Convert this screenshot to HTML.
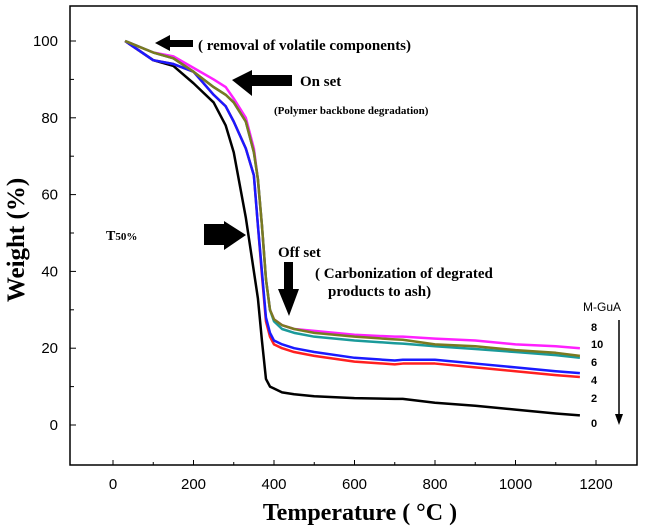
<!DOCTYPE html>
<html><head><meta charset="utf-8"><style>
body{margin:0;background:#fff;}
svg{display:block;}
text{font-family:"Liberation Serif",serif;}
</style></head><body>
<svg id="chart" width="645" height="526" viewBox="0 0 645 526" xmlns="http://www.w3.org/2000/svg">
<g id="axes"></g>
<g id="series"></g>
<g id="annot" font-weight="bold" fill="#000">
  <polygon points="155,43 170,35 170,40 193,40 193,47 170,47 170,51"/>
  <text x="198" y="50" font-size="15">( removal of volatile components)</text>
  <polygon points="232,80 252,70 252,75 292,75 292,86 252,86 252,96"/>
  <text x="300" y="86" font-size="15">On set</text>
  <text x="274" y="114" font-size="11">(Polymer backbone degradation)</text>
  <text x="106" y="240" font-size="14">T<tspan font-size="11">50%</tspan></text>
  <polygon points="204,224 224,224 224,221 246,235 224,250 224,245 204,245"/>
  <text x="278" y="257" font-size="15">Off set</text>
  <polygon points="284,262 293,262 293,289 299,289 289,316 278,289 284,289"/>
  <text x="315" y="278" font-size="15">( Carbonization of degrated</text>
  <text x="328" y="296" font-size="15">products to ash)</text>
  <g font-size="11">
    <text x="583" y="311" style="font-family:'Liberation Sans',sans-serif" font-size="12" font-weight="normal">M-GuA</text>
    <text x="591" y="331" style="font-family:'Liberation Sans',sans-serif">8</text>
    <text x="591" y="348" style="font-family:'Liberation Sans',sans-serif">10</text>
    <text x="591" y="366" style="font-family:'Liberation Sans',sans-serif">6</text>
    <text x="591" y="384" style="font-family:'Liberation Sans',sans-serif">4</text>
    <text x="591" y="402" style="font-family:'Liberation Sans',sans-serif">2</text>
    <text x="591" y="427" style="font-family:'Liberation Sans',sans-serif">0</text>
  </g>
  <line x1="619" y1="320" x2="619" y2="415" stroke="#000" stroke-width="1.5"/>
  <polygon points="615,414 623,414 619,425"/>
</g>
</svg>
<script>
const xTicks=[0,200,400,600,800,1000,1200];
const yTicks=[0,20,40,60,80,100];
const temps=[30,100,150,200,250,280,300,330,350,360,370,380,390,400,420,450,500,600,700,720,800,900,1000,1100,1160];
const w0=[100,95,93.5,89,84,78,71,54,40,33,22,12,10,9.5,8.5,8,7.5,7,6.8,6.8,5.8,5,4,3,2.5];
const w2=[100,95,94,92,86,83,79,72,65,52,40,28,24,22,21,20,19,17.5,16.8,17,17,16,15,14,13.5];
const w4=[100,95,94,92,86,83,79,72,65,52,39,27,23,21,20,19,18,16.5,15.8,16,16,15,14,13,12.5];
const w6=[100,97,95.5,92,88,86,84,79,71,64,52,38,30,27,25,24,23,22,21.3,21.2,20.5,19.8,19,18.2,17.5];
const w8=[100,97,96,93,90,88,85,80,72,64,52,38,30,27.5,26,25,24.5,23.5,23,23,22.5,22,21,20.5,20];
const w10=[100,97,95.5,92,88,86,84,79,71,64,52,38,30,27.5,26,25,24,23,22.3,22.2,21,20.5,19.5,18.8,18];
const sx=v=>113+v*0.4025;
const sy=v=>425-v*3.84;
const NS="http://www.w3.org/2000/svg";
const ax=document.getElementById('axes');
function mk(tag,attrs,parent){const e=document.createElementNS(NS,tag);for(const k in attrs)e.setAttribute(k,attrs[k]);parent.appendChild(e);return e;}
const fr=mk('rect',{x:70,y:6,width:567,height:459,fill:'none',stroke:'#000','stroke-width':1.5},ax);


xTicks.forEach(t=>{
  const l=mk('line',{x1:sx(t),x2:sx(t),y1:465,y2:460,stroke:'#000'},ax);
  
  
  const tx=mk('text',{x:sx(t),y:489,'font-size':15,'text-anchor':'middle',style:"font-family:'Liberation Sans',sans-serif"},ax);
  tx.textContent=t;
  
  
  if(t<1200){const m=mk('line',{x1:sx(t+100),x2:sx(t+100),y1:465,y2:462,stroke:'#000'},ax);
  
  }
});
yTicks.forEach(t=>{
  const l=mk('line',{x1:70,x2:76,y1:sy(t),y2:sy(t),stroke:'#000'},ax);
  
  
  const tx=mk('text',{x:58,y:sy(t)+5,'font-size':15,'text-anchor':'end',style:"font-family:'Liberation Sans',sans-serif"},ax);
  tx.textContent=t;
  
  
  if(t<100){const m=mk('line',{x1:70,x2:74,y1:sy(t+10),y2:sy(t+10),stroke:'#000'},ax);
  
  }
});
const xt=mk('text',{x:360,y:520,'font-size':24,'font-weight':'bold','text-anchor':'middle'},ax);
xt.textContent='Temperature ( \u00B0C )';


const yt=mk('text',{x:0,y:0,'font-size':25,'font-weight':'bold','text-anchor':'middle',transform:'translate(24,240) rotate(-90)'},ax);
yt.textContent='Weight (%)';


const sg=document.getElementById('series');
[[w0,'#000','series-0'],[w4,'#ff2020','series-4'],[w2,'#1a1aff','series-2'],[w8,'#ff20ff','series-8'],[w6,'#1a9a9a','series-6'],[w10,'#7a7a20','series-10']].forEach(([d,c,n])=>{
  const p=mk('polyline',{points:temps.map((t,i)=>sx(t)+','+sy(d[i])).join(' '),fill:'none',stroke:c,'stroke-width':2.5,'stroke-linejoin':'round'},sg);
  
  
});
</script>
</body></html>
